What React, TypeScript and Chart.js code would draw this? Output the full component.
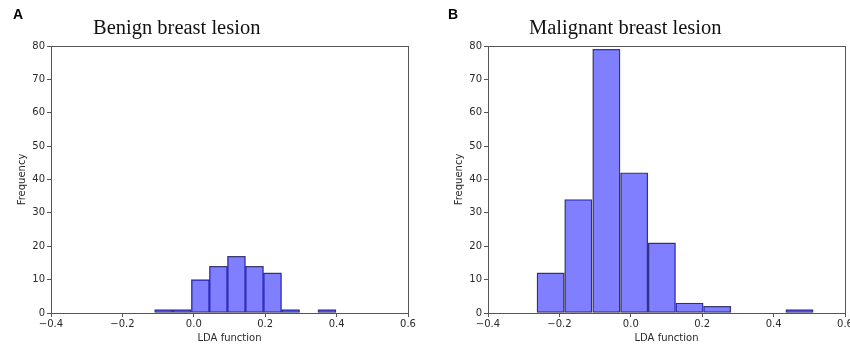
import React, { useEffect, useRef } from "react";
import { Chart, registerables } from "chart.js";

Chart.register(...registerables);

// Benign breast lesion histogram (bin edges)
const benignEdges = [-0.110, -0.059, -0.007, 0.044, 0.094, 0.145, 0.195, 0.246, 0.296, 0.347, 0.399];
const benignCounts = [1, 1, 10, 14, 17, 14, 12, 1, 0, 1];

// Malignant breast lesion histogram
const malignantEdges = [-0.263, -0.186, -0.108, -0.029, 0.048, 0.126, 0.203, 0.281, 0.358, 0.434, 0.511];
const malignantCounts = [12, 34, 79, 42, 21, 3, 2, 0, 0, 1];

const xTicks = [-0.4, -0.2, 0.0, 0.2, 0.4, 0.6];
const yTicks = [0, 10, 20, 30, 40, 50, 60, 70, 80];

const xLabel = "LDA function";
const yLabel = "Frequency";
const panelTitles = ["Benign breast lesion", "Malignant breast lesion"];
const panelLetters = ["A", "B"];

const TICK_FONT = { family: "'DejaVu Sans'", size: 10 };
const TEXT_COLOR = "#2a2a2a";
const SPINE_COLOR = "#555";

const framePlugin = {
  id: "frame",
  afterDraw(chart: any) {
    const { ctx, chartArea } = chart;
    ctx.save();
    ctx.strokeStyle = SPINE_COLOR;
    ctx.lineWidth = 1;
    ctx.strokeRect(
      Math.round(chartArea.left) + 0.5,
      Math.round(chartArea.top) + 0.5,
      Math.round(chartArea.right - chartArea.left),
      Math.round(chartArea.bottom - chartArea.top)
    );
    ctx.restore();
  },
};

function Hist({ edges, counts }: { edges: number[]; counts: number[] }) {
  const ref = useRef<HTMLCanvasElement | null>(null);
  useEffect(() => {
    if (!ref.current) return;
    const data = counts.map((c, i) => ({ x: (edges[i] + edges[i + 1]) / 2, y: c }));
    const chart = new Chart(ref.current, {
      type: "bar",
      data: {
        datasets: [
          {
            data: data as any,
            backgroundColor: "rgba(0,0,255,0.5)",
            borderColor: "rgba(20,20,50,0.8)",
            borderWidth: 0.7,
            barPercentage: 1,
            categoryPercentage: 1,
            borderSkipped: false,
          } as any,
        ],
      },
      options: {
        animation: false,
        responsive: false,
        maintainAspectRatio: false,
        layout: { padding: { top: 46, right: 17, left: 0, bottom: 0 } },
        plugins: { legend: { display: false }, tooltip: { enabled: false }, title: { display: false } },
        scales: {
          x: {
            type: "linear",
            min: -0.4,
            max: 0.6,
            offset: false,
            afterBuildTicks: (s: any) => {
              s.ticks = xTicks.map((v) => ({ value: v }));
            },
            afterFit: (s: any) => {
              s.height = 33;
            },
            ticks: {
              font: TICK_FONT,
              color: TEXT_COLOR,
              padding: 1,
              maxRotation: 0,
              callback: (v: any) => {
                const n = Number(v);
                const s = Math.abs(n).toFixed(1);
                return n < -1e-9 ? "\u2212" + s : s;
              },
            },
            grid: { drawOnChartArea: false, tickLength: 4, color: SPINE_COLOR, offset: false },
            border: { display: false },
            title: {
              display: true,
              text: xLabel,
              font: TICK_FONT,
              color: TEXT_COLOR,
              padding: { top: 0, bottom: 2 },
            },
          },
          y: {
            type: "linear",
            min: 0,
            max: 80,
            afterBuildTicks: (s: any) => {
              s.ticks = yTicks.map((v) => ({ value: v }));
            },
            afterFit: (s: any) => {
              s.width = 51;
            },
            ticks: { font: TICK_FONT, color: TEXT_COLOR, padding: 2 },
            grid: { drawOnChartArea: false, tickLength: 4, color: SPINE_COLOR },
            border: { display: false },
            title: {
              display: true,
              text: yLabel,
              font: TICK_FONT,
              color: TEXT_COLOR,
              padding: { top: 16, bottom: 0 },
            },
          },
        },
      },
      plugins: [framePlugin],
    });
    return () => chart.destroy();
  }, [edges, counts]);
  return <canvas ref={ref} width={425} height={346} style={{ width: 425, height: 346, display: "block" }} />;
}

export default function App() {
  const panels = [
    { edges: benignEdges, counts: benignCounts, left: 0, titleLeft: 93, letterLeft: 13 },
    { edges: malignantEdges, counts: malignantCounts, left: 437, titleLeft: 529, letterLeft: 448 },
  ];
  return (
    <div
      style={{
        position: "fixed",
        left: 0,
        top: 0,
        width: 850,
        height: 346,
        overflow: "hidden",
        background: "#fff",
      }}
    >
      {panels.map((p, i) => (
        <React.Fragment key={i}>
          <div style={{ position: "absolute", left: p.left, top: 0 }}>
            <Hist edges={p.edges} counts={p.counts} />
          </div>
          <div
            style={{
              position: "absolute",
              left: p.letterLeft,
              top: 7,
              font: "bold 14px 'Liberation Sans', Arial, sans-serif",
              lineHeight: "14px",
              color: "#000",
              whiteSpace: "nowrap",
            }}
          >
            {panelLetters[i]}
          </div>
          <div
            style={{
              position: "absolute",
              left: p.titleLeft,
              top: 17,
              font: "20.5px 'Liberation Serif', 'Times New Roman', serif",
              lineHeight: "20.5px",
              color: "#111",
              whiteSpace: "nowrap",
            }}
          >
            {panelTitles[i]}
          </div>
        </React.Fragment>
      ))}
    </div>
  );
}
